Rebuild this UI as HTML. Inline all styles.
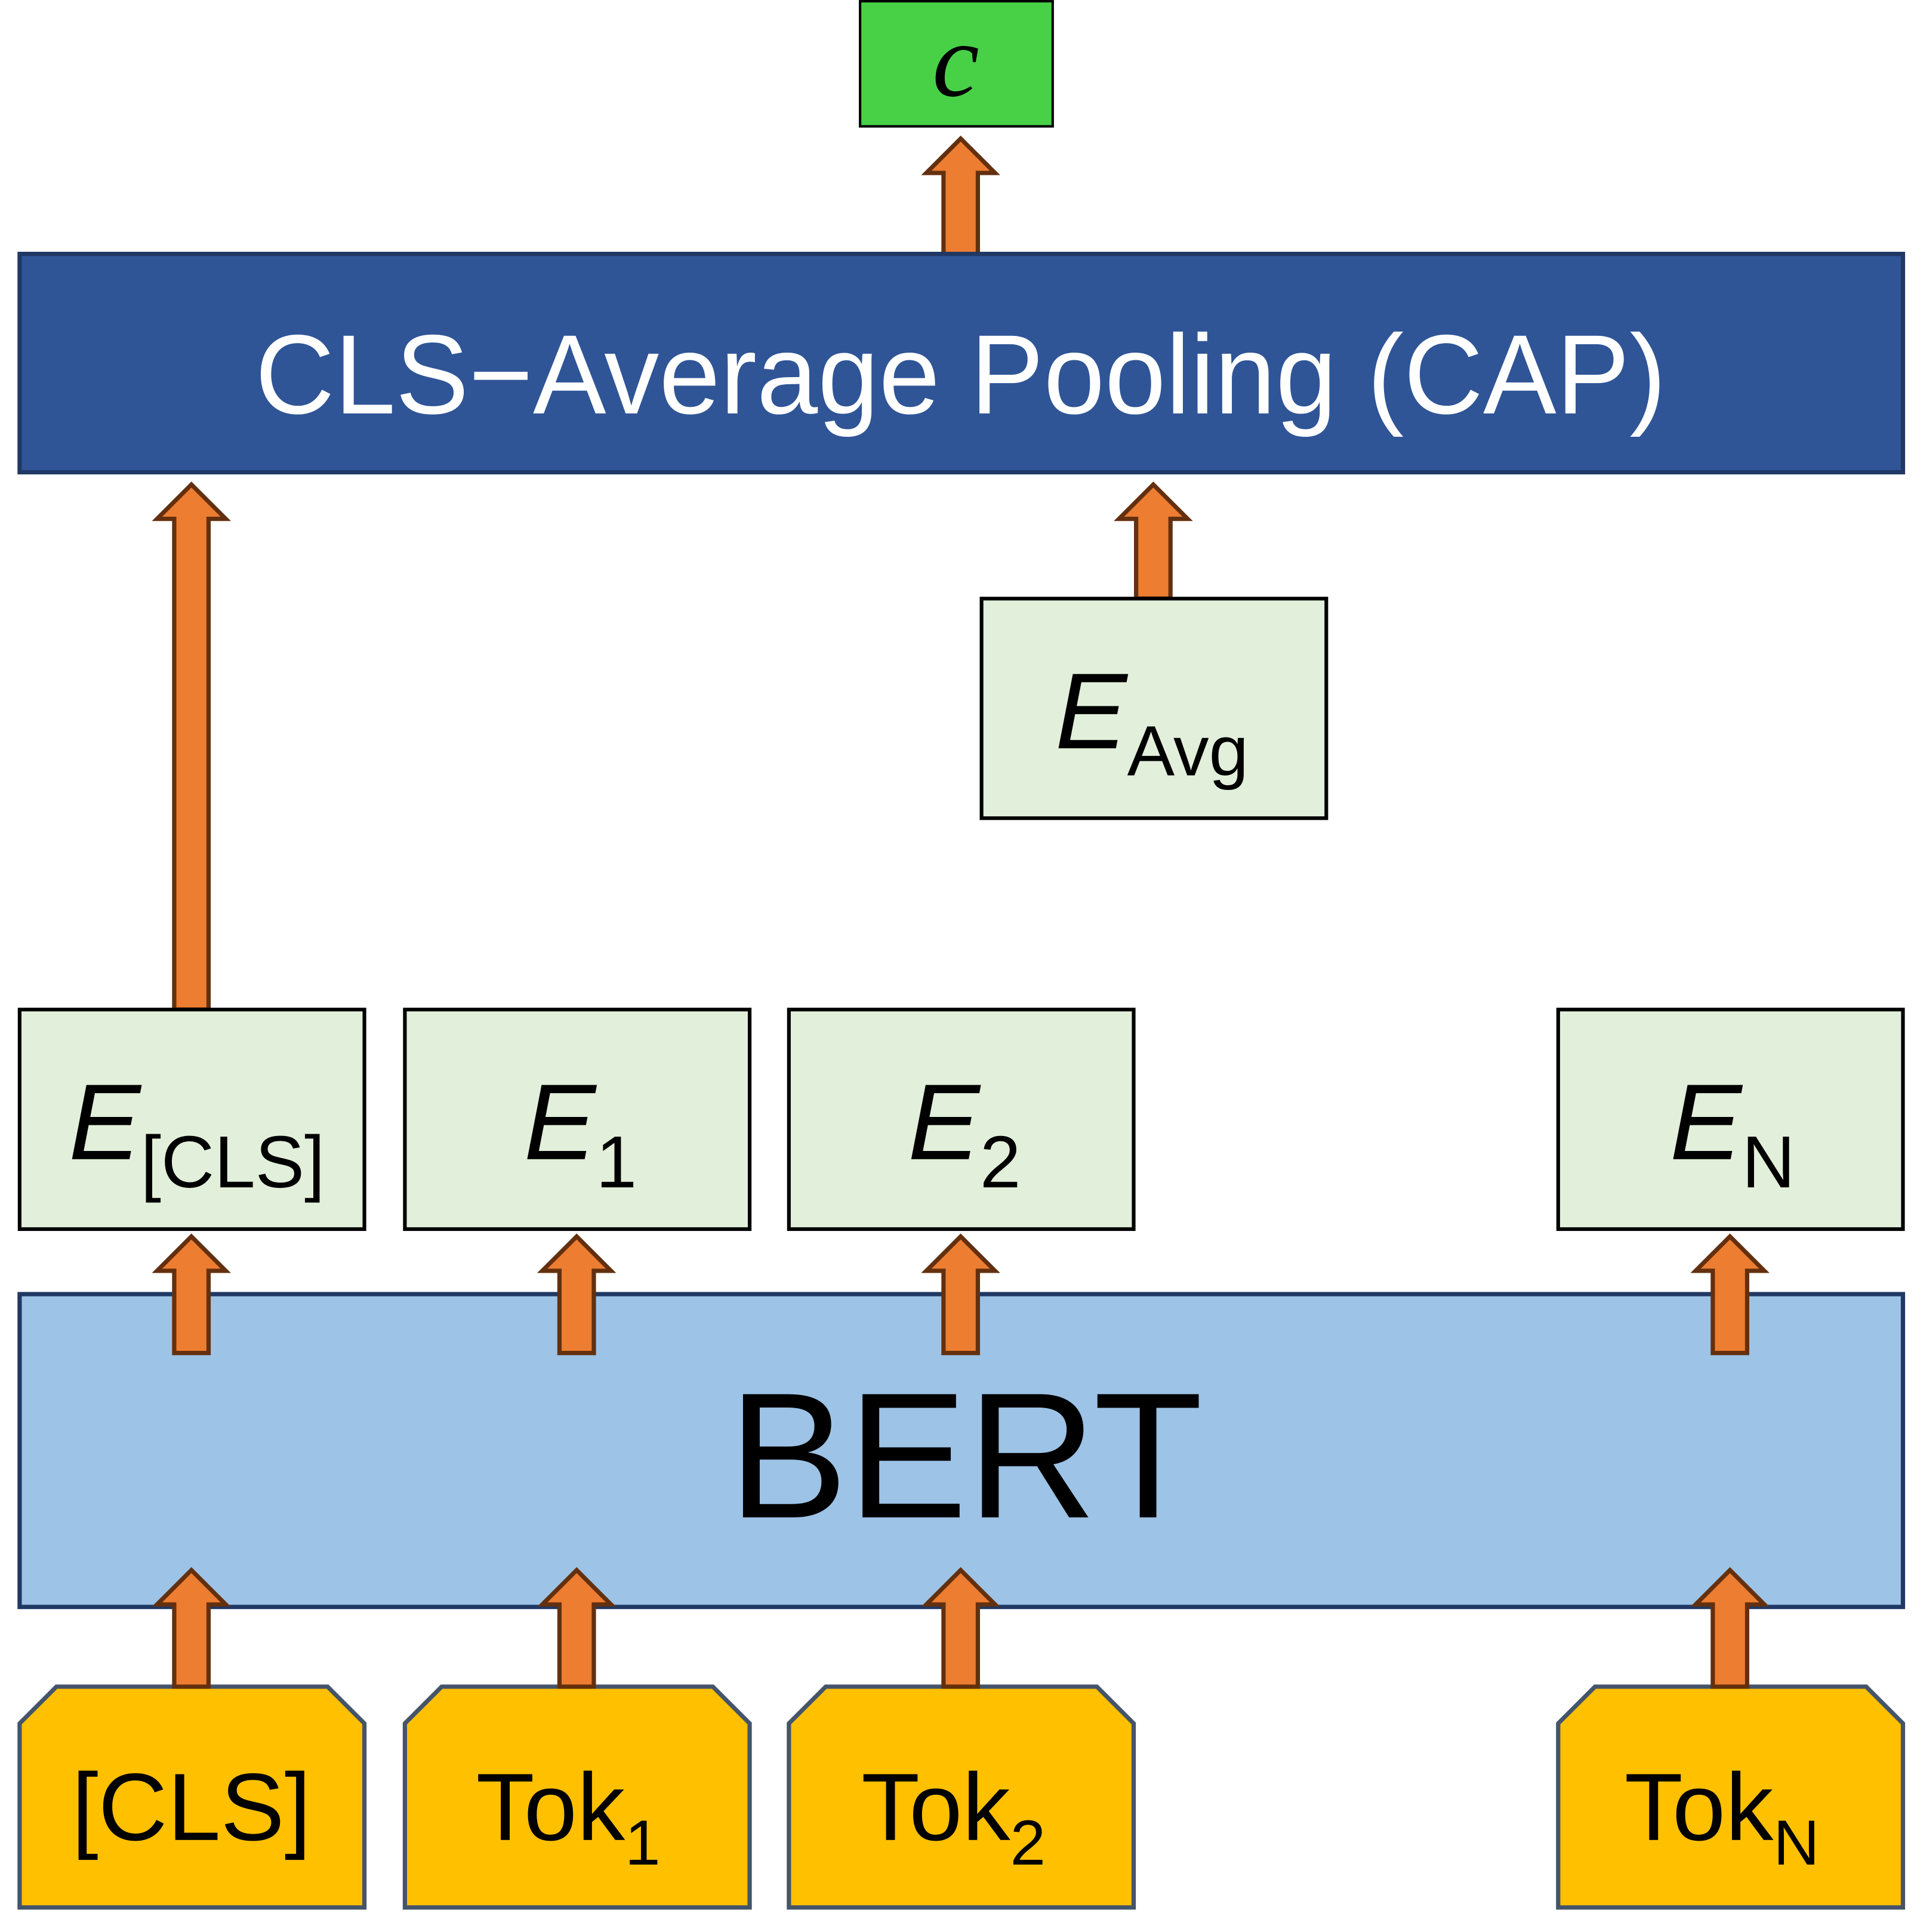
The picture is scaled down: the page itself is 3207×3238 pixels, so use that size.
<!DOCTYPE html>
<html><head><meta charset="utf-8"><style>
html,body{margin:0;padding:0;background:#fff;}
svg{display:block;}
</style></head><body>
<svg width="3207" height="3238" viewBox="0 0 1560 1575" preserveAspectRatio="none" xmlns="http://www.w3.org/2000/svg" font-family="Liberation Sans, sans-serif">
<defs>
<g id="arr"><path d="M-14,0 L-14,-67 L-28,-67 L0,-95 L28,-67 L14,-67 L14,0 Z" fill="#ed7d31" stroke="#63300f" stroke-width="3.5"/></g>
</defs>
<!-- output C -->
<rect x="701" y="1" width="157" height="102" fill="#48d147" stroke="#000" stroke-width="2"/>
<text x="779" y="78" font-family="Liberation Serif, serif" font-style="italic" font-size="86" text-anchor="middle">c</text>
<!-- CAP arrow -->
<path d="M769,207 L769,141 L755,141 L783,113 L811,141 L797,141 L797,207 Z" fill="#ed7d31" stroke="#63300f" stroke-width="3.5"/>
<!-- CAP box -->
<rect x="16" y="207" width="1535" height="178" fill="#2f5597" stroke="#203864" stroke-width="3.5"/>
<text x="783" y="337" fill="#fff" font-size="92" text-anchor="middle" textLength="1150" lengthAdjust="spacingAndGlyphs">CLS−Average Pooling (CAP)</text>
<!-- arrows into CAP -->
<path d="M142,823 L142,423 L128,423 L156,395 L184,423 L170,423 L170,823 Z" fill="#ed7d31" stroke="#63300f" stroke-width="3.5"/>
<path d="M926,488 L926,423 L912,423 L940,395 L968,423 L954,423 L954,488 Z" fill="#ed7d31" stroke="#63300f" stroke-width="3.5"/>
<!-- E_Avg -->
<rect x="800" y="488" width="281" height="179" fill="#e2efda" stroke="#000" stroke-width="3"/>
<text x="860" y="610" font-size="88"><tspan font-style="italic">E</tspan><tspan font-size="58" dy="22">Avg</tspan></text>
<!-- E boxes -->
<rect x="16" y="823" width="281" height="179" fill="#e2efda" stroke="#000" stroke-width="3"/>
<text x="56" y="945" font-size="88"><tspan font-style="italic">E</tspan><tspan font-size="60" dy="23">[CLS]</tspan></text>
<rect x="330" y="823" width="281" height="179" fill="#e2efda" stroke="#000" stroke-width="3"/>
<text x="427" y="945" font-size="88"><tspan font-style="italic">E</tspan><tspan font-size="60" dy="23">1</tspan></text>
<rect x="643" y="823" width="281" height="179" fill="#e2efda" stroke="#000" stroke-width="3"/>
<text x="740" y="945" font-size="88"><tspan font-style="italic">E</tspan><tspan font-size="60" dy="23">2</tspan></text>
<rect x="1270" y="823" width="281" height="179" fill="#e2efda" stroke="#000" stroke-width="3"/>
<text x="1361" y="945" font-size="88"><tspan font-style="italic">E</tspan><tspan font-size="60" dy="23">N</tspan></text>
<!-- BERT -->
<rect x="16" y="1055" width="1535" height="255" fill="#9dc3e6" stroke="#203864" stroke-width="3.5"/>
<text x="787" y="1237" font-size="146" text-anchor="middle">BERT</text>
<!-- arrows BERT->E -->
<g><use href="#arr" x="156" y="1103"/></g>
<g><use href="#arr" x="470" y="1103"/></g>
<g><use href="#arr" x="783" y="1103"/></g>
<g><use href="#arr" x="1410" y="1103"/></g>
<!-- tokens -->
<path d="M46,1375 L267,1375 L297,1405 L297,1555 L16,1555 L16,1405 Z" fill="#ffc000" stroke="#44546a" stroke-width="3.5"/>
<text x="156" y="1500" font-size="78" text-anchor="middle">[CLS]</text>
<path d="M360,1375 L581,1375 L611,1405 L611,1555 L330,1555 L330,1405 Z" fill="#ffc000" stroke="#44546a" stroke-width="3.5"/>
<text x="388" y="1500" font-size="78">Tok<tspan font-size="52" dy="20">1</tspan></text>
<path d="M673,1375 L894,1375 L924,1405 L924,1555 L643,1555 L643,1405 Z" fill="#ffc000" stroke="#44546a" stroke-width="3.5"/>
<text x="702" y="1500" font-size="78">Tok<tspan font-size="52" dy="20">2</tspan></text>
<path d="M1300,1375 L1521,1375 L1551,1405 L1551,1555 L1270,1555 L1270,1405 Z" fill="#ffc000" stroke="#44546a" stroke-width="3.5"/>
<text x="1324" y="1500" font-size="78">Tok<tspan font-size="52" dy="20">N</tspan></text>
<!-- arrows tokens->BERT -->
<g><use href="#arr" x="156" y="1375"/></g>
<g><use href="#arr" x="470" y="1375"/></g>
<g><use href="#arr" x="783" y="1375"/></g>
<g><use href="#arr" x="1410" y="1375"/></g>
</svg>
</body></html>
